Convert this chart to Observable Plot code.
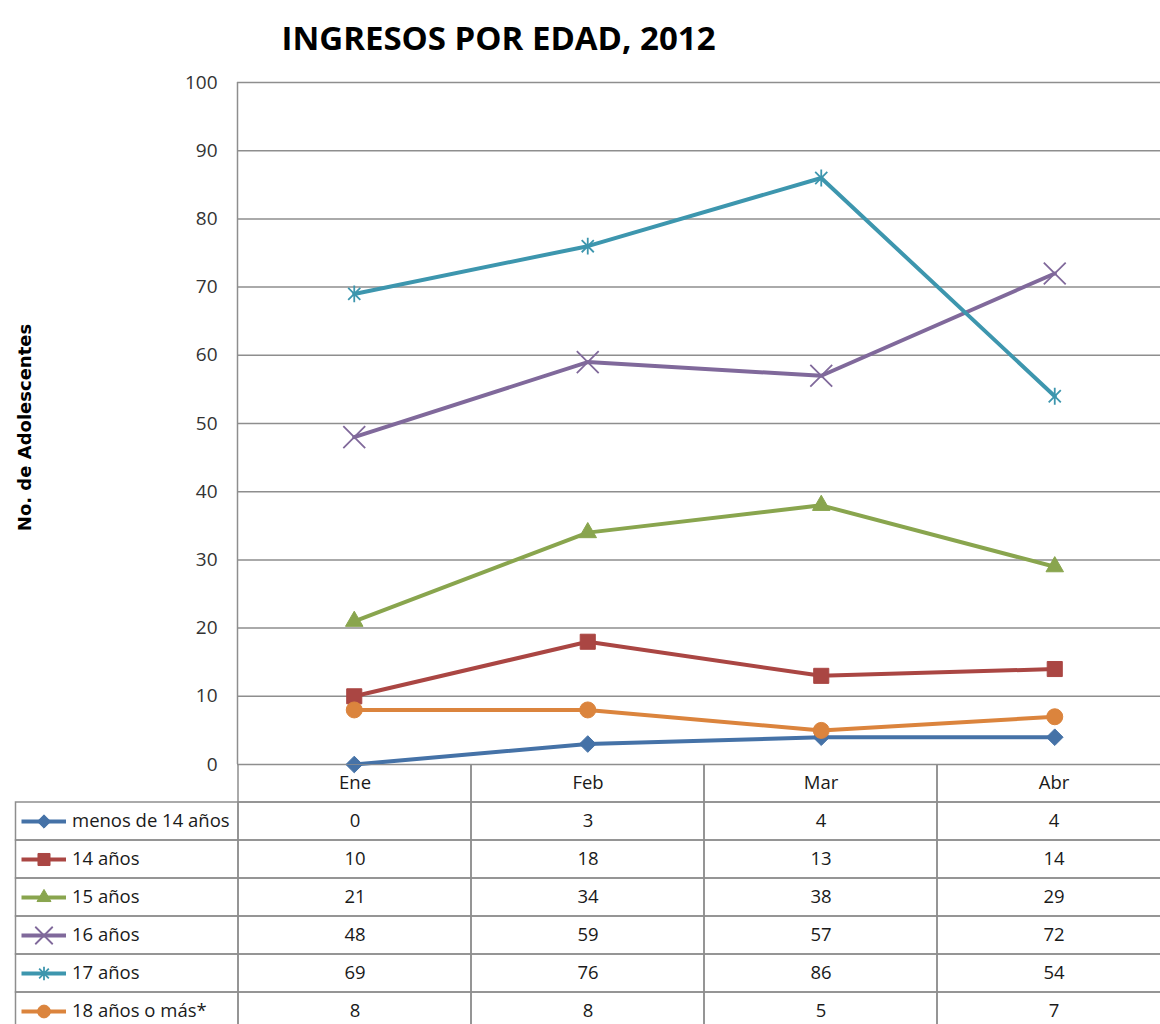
<!DOCTYPE html>
<html>
<head>
<meta charset="utf-8">
<script src="https://cdn.jsdelivr.net/npm/d3@7"></script>
<script src="https://cdn.jsdelivr.net/npm/@observablehq/plot@0.6"></script>
<style>
  html, body { margin: 0; padding: 0; background: #fff; overflow: hidden; }
  #title { position: relative; width: 1160px; height: 70px; }
  #title span { position: absolute; left: 0; width: 997px; top: 13px; line-height: 50px;
    text-align: center; font-family: "Open Sans"; font-weight: 700; font-size: 33px; color: #000; }
  svg { display: block; }
  #table { margin-top: -16px; position: relative; }
</style>
</head>
<body>
<div id="title"><span>INGRESOS POR EDAD, 2012</span></div>
<div id="chart"></div>
<div id="table"></div>
<script>
// ---- data ----
const months = ["Ene", "Feb", "Mar", "Abr"];
const series = ["menos de 14 años", "14 años", "15 años", "16 años", "17 años", "18 años o más*"];
const menos14 = [0, 3, 4, 4];
const anios14 = [10, 18, 13, 14];
const anios15 = [21, 34, 38, 29];
const anios16 = [48, 59, 57, 72];
const anios17 = [69, 76, 86, 54];
const anios18 = [8, 8, 5, 7];
const yTicks = [0, 10, 20, 30, 40, 50, 60, 70, 80, 90, 100];
const yTitle = "No. de Adolescentes";

// ---- styles ----
const excelStar = {
  draw(ctx, size) {
    const r = Math.sqrt(size) * 0.5, d = r * 0.72;
    ctx.moveTo(0, -r); ctx.lineTo(0, r);
    ctx.moveTo(-d, -d); ctx.lineTo(d, d);
    ctx.moveTo(-d, d); ctx.lineTo(d, -d);
  }
};
const colors = ["#4572A7", "#AA4643", "#89A54E", "#80699B", "#3D96AE", "#DB843D"];
const symbols = ["diamond2", "square", "triangle", "times", excelStar, "circle"];
const radii = [7.5, 8.5, 6.5, 10, 9.5, 8];
const stroked = [false, false, false, true, true, false];
const grid = "#8e8e8e";

const values = [menos14, anios14, anios15, anios16, anios17, anios18];
const data = series.flatMap((s, k) => months.map((m, i) => ({series: s, month: m, value: values[k][i]})));
const xIndex = d => months.indexOf(d.month);

function markerMark(rows, k, opts, scale = 1) {
  const base = {symbol: symbols[k], r: radii[k] * scale, ...opts};
  if (stroked[k]) return Plot.dot(rows, {...base, stroke: colors[k], strokeWidth: 1.8, fill: "none"});
  return Plot.dot(rows, {...base, fill: colors[k], stroke: colors[k], strokeWidth: 1});
}

// ---- main chart ----
const mainMarks = [
  Plot.ruleY(yTicks, {stroke: grid, strokeWidth: 1.5}),
  Plot.ruleX([-0.5], {stroke: grid, strokeWidth: 1.5})
];
series.forEach((s, k) => {
  const rows = data.filter(d => d.series === s);
  mainMarks.push(Plot.line(rows, {x: xIndex, y: "value", stroke: colors[k], strokeWidth: 4, strokeLinejoin: "round", strokeLinecap: "round"}));
  mainMarks.push(markerMark(rows, k, {x: xIndex, y: "value"}));
});
mainMarks.push(Plot.text([yTitle], {frameAnchor: "left", textAnchor: "middle", dx: -212, dy: 4, rotate: -90,
  fontFamily: "DejaVu Sans", fontWeight: "bold", fontSize: 18, fill: "#000"}));

const main = Plot.plot({
  width: 1160, height: 710,
  marginTop: 12, marginBottom: 16, marginLeft: 237, marginRight: 0,
  style: {fontFamily: "Open Sans", fontSize: "19px", color: "#333", background: "#fff", overflow: "hidden"},
  x: {type: "linear", domain: [-0.5, months.length - 0.5], range: [237, 1171], axis: null},
  y: {domain: [0, 100], ticks: yTicks, tickSize: 0, tickPadding: 20, label: null},
  marks: mainMarks
});
document.getElementById("chart").appendChild(main);

// ---- data table ----
const cols = ["legend", ...months];
const rowsY = ["header", ...series];
const tableMarks = [
  Plot.cell(months, {x: d => d, y: () => "header", fill: "none", stroke: grid, strokeWidth: 1.5}),
  Plot.cell(data, {x: "month", y: "series", fill: "none", stroke: grid, strokeWidth: 1.5}),
  Plot.cell(series, {x: () => "legend", y: d => d, fill: "none", stroke: grid, strokeWidth: 1.5, insetLeft: 10.5}),
  Plot.text(months, {x: d => d, y: () => "header"}),
  Plot.text(data, {x: "month", y: "series", text: d => String(d.value)}),
  Plot.text(series, {x: () => "legend", y: d => d, textAnchor: "start", dx: -50})
];
series.forEach((s, k) => {
  tableMarks.push(Plot.tickY([s], {x: () => "legend", y: d => d, stroke: colors[k], strokeWidth: 4, insetLeft: 16.5, insetRight: 172}));
  tableMarks.push(markerMark([s], k, {x: () => "legend", y: d => d, dx: -78}, 0.8));
});

const table = Plot.plot({
  width: 1160, height: 260, margin: 0,
  style: {fontFamily: "Open Sans", fontSize: "18.5px", color: "#1a1a1a", background: "transparent", overflow: "hidden"},
  x: {type: "band", domain: cols, range: [237 - 233.5, 1171], padding: 0, axis: null},
  y: {type: "band", domain: rowsY, range: [0, 38 * rowsY.length], padding: 0, axis: null},
  marks: tableMarks
});
document.getElementById("table").appendChild(table);
</script>
</body>
</html>
